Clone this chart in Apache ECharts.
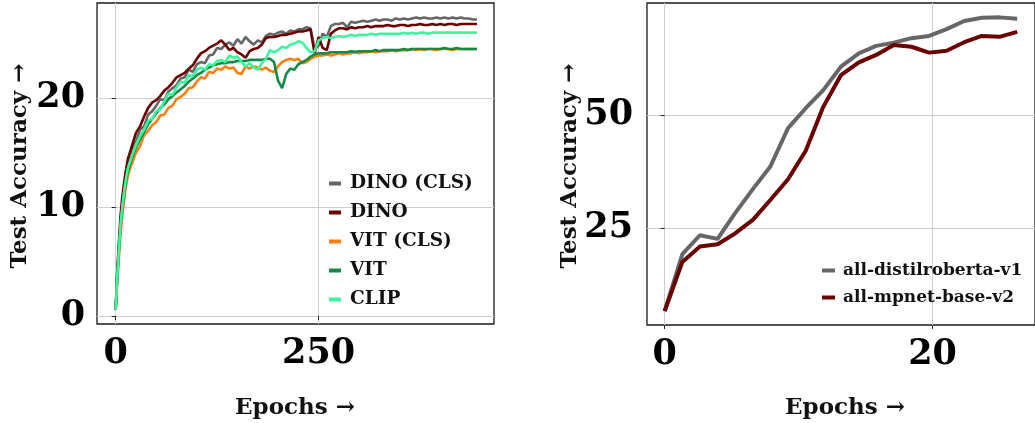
<!DOCTYPE html>
<html><head><meta charset="utf-8">
<script src="https://cdn.jsdelivr.net/npm/echarts@6/dist/echarts.min.js"></script>
<style>html,body{margin:0;padding:0;background:#fff}#c{width:1035px;height:423px}</style>
</head><body><div id="c"></div>
<script>
// ---------- Left panel data ----------
const epochs = [0,2,4,6,8,10,12,15,20,25,30,35,40,45,50,55,60,65,70,75,80,85,90,95,100,105,110,115,120,125,130,135,140,145,150,155,160,165,170,175,180,185,190,195,200,205,210,215,220,225,230,235,240,245,250,255,260,265,270,275,280,285,290,295,300,305,310,315,320,325,330,335,340,345,350,355,360,365,370,375,380,385,390,395,400,405,410,415,420,425,430,435,440,445];
const dinoCls = [0.6,3.8,6.3,8.6,10.1,11.4,12.6,13.9,15.3,16.0,17.1,17.4,18.5,18.8,19.3,19.9,19.8,20.6,20.9,21.2,21.8,21.9,22.6,22.4,23.1,23.3,23.2,23.9,24.0,24.6,24.5,24.9,25.1,24.8,25.4,25.0,25.6,25.2,24.9,25.3,25.1,25.7,25.9,25.8,26.0,26.1,25.9,26.2,26.1,26.3,26.3,26.5,26.4,24.5,24.8,25.9,25.6,26.6,26.8,26.8,26.9,26.5,27.0,26.9,27.0,27.1,27.0,27.1,27.2,27.1,27.2,27.2,27.1,27.3,27.2,27.3,27.2,27.3,27.4,27.3,27.4,27.3,27.3,27.4,27.3,27.4,27.3,27.4,27.3,27.4,27.3,27.3,27.2,27.2];
const dino = [0.6,4.2,6.8,9.2,10.8,12.0,13.1,14.4,15.6,16.8,17.4,18.3,19.1,19.6,19.8,20.2,20.7,21.0,21.4,21.9,22.1,22.3,22.7,23.0,23.6,24.1,24.3,24.6,24.8,25.0,25.3,24.9,24.4,24.6,24.2,24.0,23.7,24.3,24.5,24.6,24.9,25.5,25.6,25.6,25.7,25.8,25.8,25.9,26.0,26.1,26.1,26.2,26.3,24.1,25.6,24.6,24.4,25.9,26.2,26.4,26.4,26.3,26.5,26.4,26.5,26.5,26.6,26.5,26.6,26.6,26.6,26.7,26.6,26.6,26.7,26.7,26.6,26.7,26.7,26.8,26.7,26.7,26.8,26.7,26.8,26.7,26.8,26.8,26.7,26.8,26.8,26.8,26.8,26.8];
const vitCls = [0.6,3.2,5.4,7.6,9.2,10.4,11.6,12.9,14.0,15.0,15.6,16.6,17.0,17.5,17.8,18.4,18.5,19.1,19.3,19.9,20.1,20.4,20.9,21.0,21.5,21.9,21.8,22.4,22.3,22.7,22.6,22.9,22.7,22.8,22.3,22.2,22.9,22.7,22.9,22.8,22.6,22.8,22.5,22.4,22.9,23.3,23.5,23.6,23.5,23.6,23.2,23.3,23.6,23.8,23.9,23.9,24.0,23.9,24.0,24.1,24.0,24.1,24.1,24.2,24.1,24.2,24.2,24.3,24.2,24.3,24.3,24.3,24.4,24.3,24.4,24.4,24.4,24.5,24.4,24.5,24.4,24.5,24.5,24.4,24.5,24.5,24.5,24.4,24.5,24.5,24.5,24.5,24.5,24.5];
const vit = [0.6,3.6,6.0,8.2,9.7,10.9,12.1,13.3,14.5,15.5,16.2,16.9,17.6,18.1,18.6,19.1,19.4,19.9,20.2,20.5,20.8,21.1,21.5,21.8,22.1,22.3,22.6,22.8,23.0,23.1,23.2,23.2,23.3,23.3,23.4,23.4,23.4,23.5,23.5,23.5,23.5,23.6,23.6,23.3,21.6,20.9,22.2,22.7,22.6,23.1,23.3,23.5,23.8,24.0,24.1,24.1,24.1,24.2,24.2,24.2,24.2,24.2,24.3,24.25,24.3,24.3,24.3,24.3,24.4,24.3,24.4,24.4,24.4,24.4,24.4,24.5,24.4,24.5,24.5,24.5,24.5,24.5,24.5,24.5,24.5,24.6,24.5,24.5,24.6,24.5,24.5,24.5,24.5,24.5];
const clip = [0.6,3.7,6.1,8.4,9.9,11.2,12.3,13.6,14.7,15.7,16.5,17.1,17.9,18.1,18.8,19.0,19.7,20.4,20.3,21.0,21.5,21.4,22.1,22.0,22.6,22.8,22.6,23.1,23.0,23.4,23.5,23.3,23.9,23.7,23.8,23.3,22.9,23.2,22.8,22.6,23.2,23.6,24.4,24.2,24.4,24.7,24.6,24.9,25.0,25.2,25.1,24.6,24.2,24.3,25.3,25.5,25.6,25.5,25.6,25.7,25.6,25.7,25.8,25.7,25.8,25.8,25.8,25.9,25.8,25.9,25.9,25.9,25.9,25.9,25.9,26.0,25.9,26.0,25.9,26.0,26.0,25.9,26.0,26.0,26.0,26.0,26.0,26.0,26.0,26.0,26.0,26.0,26.0,26.0];
const leftNames = ['DINO (CLS)','DINO','VIT (CLS)','VIT','CLIP'];
const leftXTicks = [0,250];
const leftYTicks = [0,10,20];

// ---------- Right panel data ----------
const sbertEpochs = [0,1.32,2.63,3.95,5.26,6.58,7.89,9.21,10.53,11.84,13.16,14.47,15.79,17.11,18.42,19.74,21.05,22.37,23.68,25.0,26.32];
const distilroberta = [6.6,19.2,23.4,22.6,28.3,33.6,38.6,47.1,51.5,55.5,60.7,63.6,65.3,66.0,67.0,67.5,69.0,70.8,71.5,71.6,71.3];
const mpnet = [6.6,17.5,20.9,21.4,23.8,26.8,31.2,35.8,42.1,51.8,58.8,61.6,63.3,65.5,65.1,63.8,64.2,66.1,67.5,67.3,68.4];
const rightNames = ['all-distilroberta-v1','all-mpnet-base-v2'];
const rightXTicks = [0,20];
const rightYTicks = [25,50];

const leftColors = ['#666666','#6b0000','#ff7f0e','#0f8a47','#3cf59c'];
const rightColors = ['#666666','#6b0000'];
const SERIF = '"DejaVu Serif", serif';

function pairs(xs, ys){ return xs.map((x,i)=>[x, ys[i]]); }

function axisCommon(ticks, margin){
  return {
    type:'value',
    axisLine:{show:false},
    axisTick:{show:true, length:4, inside:false, customValues:ticks, lineStyle:{color:'#222', width:1}},
    axisLabel:{customValues:ticks, margin:margin, fontFamily:SERIF, fontWeight:'bold', fontSize:35, color:'#000'},
    splitLine:{show:true, lineStyle:{color:'#cfcfcf', width:1}}
  };
}

const chart = echarts.init(document.getElementById('c'), null, {renderer:'canvas'});
const leftSeriesVals = [dinoCls, dino, vitCls, vit, clip];
const rightSeriesVals = [distilroberta, mpnet];

const series = [];
leftSeriesVals.forEach((v,i)=>series.push({
  name:leftNames[i], type:'line', xAxisIndex:0, yAxisIndex:0, data:pairs(epochs,v),
  showSymbol:false, symbol:'none', lineStyle:{width:2.6, color:leftColors[i]}, itemStyle:{color:leftColors[i]}, animation:false
}));
rightSeriesVals.forEach((v,i)=>series.push({
  name:rightNames[i], type:'line', xAxisIndex:1, yAxisIndex:1, data:pairs(sbertEpochs,v),
  showSymbol:false, symbol:'none', lineStyle:{width:4, color:rightColors[i]}, itemStyle:{color:rightColors[i]}, animation:false
}));

chart.setOption({
  animation:false,
  backgroundColor:'#fff',
  grid:[
    {left:97, top:3, width:397, height:321, show:true, borderColor:'#1a1a1a', borderWidth:1.3, containLabel:false},
    {left:647, top:3, width:396, height:322, show:true, borderColor:'#1a1a1a', borderWidth:1.3, containLabel:false}
  ],
  xAxis:[
    Object.assign(axisCommon(leftXTicks, 12), {gridIndex:0, min:-23, max:466}),
    Object.assign(axisCommon(rightXTicks, 12), {gridIndex:1, min:-1.32, max:27.65})
  ],
  yAxis:[
    Object.assign(axisCommon(leftYTicks, 12), {gridIndex:0, min:-0.73, max:28.72}),
    Object.assign(axisCommon(rightYTicks, 14), {gridIndex:1, min:3.54, max:74.78})
  ],
  legend:[
    {data:leftNames, orient:'vertical', left:324, top:169, itemWidth:12, itemHeight:4, itemGap:10, icon:'rect',
     textStyle:{fontFamily:SERIF, fontWeight:'bold', fontSize:18.5, color:'#111', padding:[0,0,0,4]}},
    {data:rightNames, orient:'vertical', left:817, top:257, itemWidth:13, itemHeight:4, itemGap:10, icon:'rect',
     textStyle:{fontFamily:SERIF, fontWeight:'bold', fontSize:17, color:'#111', padding:[0,0,0,3]}}
  ],
  graphic:[
    {type:'text', x:20, y:166, rotation:Math.PI/2, style:{text:'Test Accuracy →', font:'bold 23px '+SERIF, textAlign:'center', textVerticalAlign:'middle', fill:'#111'}},
    {type:'text', x:570, y:166, rotation:Math.PI/2, style:{text:'Test Accuracy →', font:'bold 23px '+SERIF, textAlign:'center', textVerticalAlign:'middle', fill:'#111'}},
    {type:'text', x:295, y:408, style:{text:'Epochs →', font:'bold 23px '+SERIF, textAlign:'center', textVerticalAlign:'middle', fill:'#111'}},
    {type:'text', x:845, y:408, style:{text:'Epochs →', font:'bold 23px '+SERIF, textAlign:'center', textVerticalAlign:'middle', fill:'#111'}}
  ],
  series:series
});
</script></body></html>
